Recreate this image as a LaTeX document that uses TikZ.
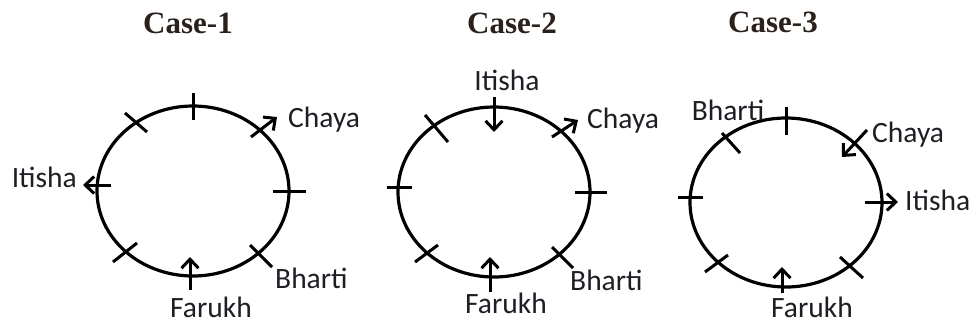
\documentclass[tikz,border=0pt]{standalone}
\usepackage{fontspec}
\setmainfont{Carlito}
\newfontfamily\titlefont{Liberation Serif}
\usetikzlibrary{arrows.meta,shapes.geometric}
\definecolor{labc}{HTML}{1E1E24}
\definecolor{ttlc}{HTML}{2A211C}
\begin{document}
\begin{tikzpicture}[x=1pt,y=-1pt,
  ring/.style={draw, ellipse, inner sep=0pt, minimum width=192pt, minimum height=170pt, line width=3.2pt},
  tickline/.style={line width=3pt},
  pointer/.style={line width=3pt, -{Straight Barb[length=9pt,width=17pt]}},
  lab/.style={font=\fontsize{29.5}{29.5}\selectfont, text=labc, inner sep=0pt},
  ttl/.style={font=\titlefont\bfseries\fontsize{31}{31}\selectfont, text=ttlc, inner sep=0pt}]
\useasboundingbox (0,0) rectangle (972,325);

% ---------------- Case 1 ----------------
\node[ttl, anchor=base] (t1) at (188,33) {Case-1};
\node[ring] (c1) at (193,191) {};
\draw[tickline] (193,93) -- (193,120);
\draw[tickline] (273,191) -- (306,191);
\draw[tickline] (125,113) -- (147,132);
\draw[tickline] (113,262) -- (137,243);
\draw[tickline] (250,245) -- (272,267);
\coordinate (a1s) at (111,185); \coordinate (a1e) at (83,185);
\draw[pointer] (a1s) -- (a1e);
\coordinate (b1s) at (251,137); \coordinate (b1e) at (277,117);
\draw[pointer] (b1s) -- (b1e);
\coordinate (f1s) at (190,290); \coordinate (f1e) at (190,257);
\draw[pointer] (f1s) -- (f1e);
\node[lab, anchor=base east] (i1) at (77,187) {Itisha};
\node[lab, anchor=base west] (ch1) at (288,127) {Chaya};
\node[lab, anchor=base west] (bh1) at (275,288) {Bharti};
\node[lab, anchor=base] (fa1) at (211,317) {Farukh};

% ---------------- Case 2 ----------------
\node[ttl, anchor=base] (t2) at (512,33) {Case-2};
\node[ring] (c2) at (494,192) {};
\draw[tickline] (387,187) -- (412,187);
\draw[tickline] (575,192) -- (607,192);
\draw[tickline] (425,115) -- (448,142);
\draw[tickline] (415,262) -- (438,245);
\draw[tickline] (552,247) -- (573,268);
\coordinate (a2s) at (494,97); \coordinate (a2e) at (494,132);
\draw[pointer] (a2s) -- (a2e);
\coordinate (b2s) at (552,137); \coordinate (b2e) at (578,120);
\draw[pointer] (b2s) -- (b2e);
\coordinate (f2s) at (490,292); \coordinate (f2e) at (490,257);
\draw[pointer] (f2s) -- (f2e);
\node[lab, anchor=base] (i2) at (507,90) {Itisha};
\node[lab, anchor=base west] (ch2) at (587,128) {Chaya};
\node[lab, anchor=base west] (bh2) at (570,290) {Bharti};
\node[lab, anchor=base] (fa2) at (506,313) {Farukh};

% ---------------- Case 3 ----------------
\node[ttl, anchor=base] (t3) at (773,32) {Case-3};
\node[ring, minimum height=169pt] (c3) at (786,202.5) {};
\draw[tickline] (786,107) -- (786,135);
\draw[tickline] (678,197) -- (703,197);
\draw[tickline] (722,133) -- (740,153);
\draw[tickline] (705,272) -- (728,255);
\draw[tickline] (840,257) -- (863,278);
\coordinate (b3s) at (867,130); \coordinate (b3e) at (842,157);
\draw[pointer] (b3s) -- (b3e);
\coordinate (a3s) at (865,202); \coordinate (a3e) at (898,202);
\draw[pointer] (a3s) -- (a3e);
\coordinate (f3s) at (782,293); \coordinate (f3e) at (782,267);
\draw[pointer] (f3s) -- (f3e);
\node[lab, anchor=base west] (ch3) at (872,142) {Chaya};
\node[lab, anchor=base west] (i3) at (905,210) {Itisha};
\node[lab, anchor=base] (bh3) at (728,120) {Bharti};
\node[lab, anchor=base] (fa3) at (812,317) {Farukh};
\end{tikzpicture}
\end{document}
